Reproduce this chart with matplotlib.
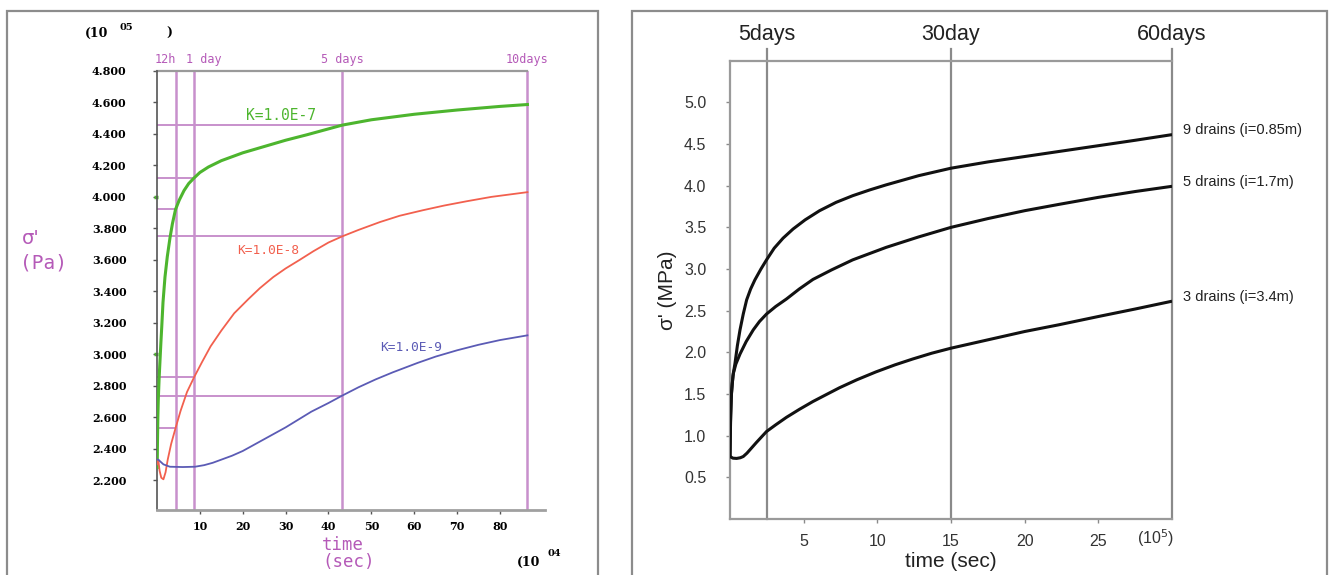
import matplotlib
matplotlib.use("Agg")
import matplotlib.pyplot as plt
from matplotlib.patches import Rectangle

# ---- left panel: effective stress vs time for three permeabilities (x 10^4 s, y 10^5 Pa)
k7_t = [0.05, 0.1, 0.2, 0.3, 0.5, 0.7, 0.9, 1.1, 1.4, 1.86, 2.4, 3.03, 3.6, 4.32, 5.2, 6.3, 7.4,
        8.64, 10.0, 12.0, 15.0, 20.0, 25.0, 30.0, 35.0, 43.2, 50.0, 60.0, 70.0, 80.0, 86.4]
k7_s = [2.28, 2.42, 2.60, 2.71, 2.85, 2.96, 3.07, 3.17, 3.33, 3.49, 3.62, 3.74, 3.83, 3.92, 3.98, 4.04, 4.085,
        4.12, 4.155, 4.19, 4.23, 4.28, 4.32, 4.36, 4.395, 4.456, 4.49, 4.525, 4.552, 4.575, 4.587]
k8_t = [0.0, 0.3, 0.6, 1.0, 1.5, 2.0, 2.5, 3.3, 4.32, 5.5, 7.0, 8.64, 10.5, 12.5, 15.0, 18.0, 21.3, 24.0,
        27.1, 30.0, 33.3, 36.5, 40.0, 43.2, 47.0, 52.0, 56.6, 62.0, 67.0, 72.2, 78.0, 86.4]
k8_s = [2.30, 2.33, 2.26, 2.215, 2.205, 2.25, 2.33, 2.43, 2.53, 2.64, 2.76, 2.853, 2.95, 3.05, 3.15, 3.26, 3.35, 3.42,
        3.49, 3.545, 3.60, 3.655, 3.71, 3.749, 3.79, 3.84, 3.88, 3.915, 3.945, 3.972, 4.0, 4.03]
k9_t = [0.0, 0.3, 1.5, 3.0, 6.0, 8.86, 11.0, 13.0, 15.0, 17.5, 20.0, 22.0, 24.0, 27.0, 30.0, 33.0, 36.0, 40.0,
        43.2, 47.0, 51.0, 55.0, 60.8, 65.0, 70.0, 75.0, 80.0, 86.4]
k9_s = [2.33, 2.33, 2.30, 2.285, 2.283, 2.285, 2.295, 2.31, 2.33, 2.355, 2.385, 2.415, 2.445, 2.49, 2.535, 2.585, 2.635, 2.69,
        2.737, 2.79, 2.84, 2.885, 2.945, 2.985, 3.025, 3.06, 3.09, 3.12]
k_labels = ["K=1.0E-7", "K=1.0E-8", "K=1.0E-9"]

# marker times (12h, 1 day, 5 days, 10 days) and the read-off levels
mark_t = [4.32, 8.64, 43.2, 86.4]
mark_names = ["12h", "1 day", "5 days", "10days"]
read_t = [43.2, 8.64, 4.32, 43.2, 8.64, 43.2, 4.32]
read_s = [4.456, 4.123, 3.923, 3.749, 2.853, 2.737, 2.53]
green_ticks = [4.0, 3.0]

left_yticks = [2.2, 2.4, 2.6, 2.8, 3.0, 3.2, 3.4, 3.6, 3.8, 4.0, 4.2, 4.4, 4.6, 4.8]
left_xticks = [10, 20, 30, 40, 50, 60, 70, 80]

# ---- right panel: sigma' (MPa) vs time (x 10^5 s) for three drain layouts
d9_t = [0.0, 0.02, 0.05, 0.1, 0.2, 0.34, 0.5, 0.68, 0.9, 1.13, 1.4, 1.69, 2.1, 2.48, 3.0, 3.6, 4.28, 5.1, 6.08,
        7.2, 8.33, 9.5, 10.6, 12.8, 15.0, 17.5, 20.0, 22.3, 25.0, 27.5, 29.9]
d9_s = [0.75, 1.0, 1.25, 1.51, 1.72, 1.87, 2.08, 2.27, 2.46, 2.63, 2.76, 2.87, 3.0, 3.11, 3.25, 3.37, 3.48, 3.59, 3.70,
        3.80, 3.88, 3.95, 4.01, 4.12, 4.21, 4.285, 4.35, 4.41, 4.48, 4.545, 4.61]
d5_t = [0.0, 0.03, 0.08, 0.15, 0.23, 0.4, 0.68, 1.1, 1.58, 2.0, 2.48, 3.1, 3.83, 4.7, 5.63, 6.9, 8.33, 10.6,
        12.8, 15.0, 17.5, 20.0, 22.3, 25.0, 27.5, 29.9]
d5_s = [0.75, 1.15, 1.45, 1.62, 1.75, 1.86, 1.98, 2.13, 2.27, 2.37, 2.46, 2.55, 2.64, 2.76, 2.875, 2.99, 3.11, 3.26,
        3.385, 3.50, 3.605, 3.70, 3.775, 3.86, 3.93, 3.99]
d3_t = [0.0, 0.2, 0.45, 0.7, 0.9, 1.15, 1.35, 1.8, 2.48, 3.1, 3.83, 4.7, 5.63, 6.5, 7.43, 8.6, 9.9, 11.2,
        12.4, 13.7, 15.0, 17.5, 20.0, 22.3, 25.0, 27.5, 29.9]
d3_s = [0.75, 0.73, 0.727, 0.735, 0.75, 0.79, 0.83, 0.92, 1.05, 1.13, 1.22, 1.315, 1.41, 1.49, 1.575, 1.67, 1.765, 1.85,
        1.92, 1.99, 2.05, 2.15, 2.25, 2.33, 2.43, 2.52, 2.61]
drain_labels = ["9 drains (i=0.85m)", "5 drains (i=1.7m)", "3 drains (i=3.4m)"]
period_t = [2.5, 15, 30]
period_names = ["5days", "30day", "60days"]
right_yticks = [0.5, 1.0, 1.5, 2.0, 2.5, 3.0, 3.5, 4.0, 4.5, 5.0]
right_xticks = [5, 10, 15, 20, 25]

W, H = 1332, 575
MAG = "#c890cc"
MAG_TXT = "#b55ab8"
GREEN = "#4db52e"
RED = "#f2604e"
BLUE = "#5b5bb5"
FRAME = "#8c8c8c"
SANS = "Liberation Sans"
MONO = "DejaVu Sans Mono"
SERIF = "DejaVu Serif"

fig = plt.figure(figsize=(W / 100, H / 100), dpi=100)


def fx(px):
    return px / W


def fy(py):
    return 1 - py / H


# panel frames
for x0, x1 in [(7, 598), (632, 1327)]:
    fig.patches.append(Rectangle((fx(x0), fy(600)), fx(x1 - x0), (600 - 11) / H,
                                 transform=fig.transFigure, fill=False,
                                 edgecolor=FRAME, linewidth=1.6))

# ================= left panel =================
ax = fig.add_axes([fx(157), fy(510), fx(545 - 157), (510 - 71) / H])
ax.set_xlim(0, 90.5)
ax.set_ylim(2.01, 4.80)
for s in ["top", "right"]:
    ax.spines[s].set_visible(False)
ax.spines["left"].set_color("#555555")
ax.spines["left"].set_linewidth(1.2)
ax.spines["bottom"].set_color("#a0a0a0")
ax.spines["bottom"].set_linewidth(2.0)
ax.plot([0, mark_t[-1]], [4.80, 4.80], color="#9a9a9a", lw=1.6, clip_on=False)

for t in mark_t:
    ax.axvline(t, color=MAG, lw=1.8, zorder=1)
label_x = [(-0.5, "left"), (6.7, "left"), (43.2, "center"), (86.4, "center")]
for (x, ha), name in zip(label_x, mark_names):
    ax.text(x, 4.875, name, color=MAG_TXT, fontsize=8.5, family=MONO, ha=ha, va="center")
for t, s in zip(read_t, read_s):
    ax.plot([0, t], [s, s], color=MAG, lw=1.4, zorder=1)

ax.plot(k7_t, k7_s, color=GREEN, lw=2.2, zorder=3)
ax.plot(k8_t, k8_s, color=RED, lw=1.3, zorder=3)
ax.plot(k9_t, k9_s, color=BLUE, lw=1.3, zorder=3)
ax.text(28.9, 4.519, k_labels[0], color=GREEN, fontsize=10.5, family=MONO, ha="center", va="center")
ax.text(25.9, 3.66, k_labels[1], color=RED, fontsize=9.3, family=MONO, ha="center", va="center")
ax.text(59.2, 3.04, k_labels[2], color=BLUE, fontsize=9.3, family=MONO, ha="center", va="center")
for s in green_ticks:
    ax.plot([-0.8, 0.3], [s, s], color=GREEN, lw=2.5, clip_on=False, solid_capstyle="butt")

ax.set_yticks(left_yticks)
ax.set_yticklabels([f"{v:.3f}" for v in left_yticks])
ax.set_xticks(left_xticks)
ax.tick_params(axis="both", direction="out", length=3, width=1, color="#555555",
               labelsize=8, pad=5)
ax.tick_params(axis="y", pad=19)
for lab in ax.get_yticklabels() + ax.get_xticklabels():
    lab.set_family(SERIF)
    lab.set_fontweight("bold")

fig.text(fx(31), fy(238), "σ'", color=MAG_TXT, fontsize=14, ha="center", va="center")
fig.text(fx(43), fy(263), "(Pa)", color=MAG_TXT, fontsize=14, family=MONO, ha="center", va="center")
fig.text(fx(322), fy(545), "time", color=MAG_TXT, fontsize=12.5, family=MONO, ha="left", va="center")
fig.text(fx(322), fy(562), "(sec)", color=MAG_TXT, fontsize=12.5, family=MONO, ha="left", va="center")
fig.text(fx(85), fy(33), "(10", fontsize=9, family=SERIF, weight="bold", ha="left", va="center")
fig.text(fx(126), fy(27), "05", fontsize=7, family=SERIF, weight="bold", ha="center", va="center")
fig.text(fx(169), fy(33), ")", fontsize=9, family=SERIF, weight="bold", ha="center", va="center")
fig.text(fx(517), fy(562), "(10", fontsize=9, family=SERIF, weight="bold", ha="left", va="center")
fig.text(fx(554), fy(554), "04", fontsize=7, family=SERIF, weight="bold", ha="center", va="center")

# ================= right panel =================
bx = fig.add_axes([fx(730), fy(519), fx(1172 - 730), (519 - 60.7) / H])
bx.set_xlim(0, 30)
bx.set_ylim(0, 5.5)
bx.spines["right"].set_visible(False)
for s in ["left", "top", "bottom"]:
    bx.spines[s].set_color("#9a9a9a")
    bx.spines[s].set_linewidth(1.6)
for t, name in zip(period_t, period_names):
    bx.plot([t, t], [0, 5.64], color="#8a8a8a", lw=1.6, clip_on=False, zorder=1)
    bx.text(t, 5.82, name, fontsize=15.5, family=SANS, color="#222222", ha="center", va="center")

for ts, ss, name in zip([d9_t, d5_t, d3_t], [d9_s, d5_s, d3_s], drain_labels):
    bx.plot(ts, ss, color="#111111", lw=2.2, zorder=3)
    bx.text(30.75, ss[-1] + 0.06, name, fontsize=10.5, family=SANS, color="#222222",
            ha="left", va="center")

bx.set_yticks(right_yticks)
bx.set_yticklabels([f"{v:.1f}" for v in right_yticks])
bx.set_xticks(right_xticks)
bx.tick_params(axis="both", direction="out", length=3, width=1, color="#8a8a8a",
               labelsize=11.5, labelcolor="#333333", pad=8)
bx.tick_params(axis="y", pad=14)
for lab in bx.get_yticklabels() + bx.get_xticklabels():
    lab.set_family(SANS)
bx.set_ylabel("σ' (MPa)", fontsize=15, family=SANS, color="#222222", labelpad=5)
bx.set_xlabel("time (sec)", fontsize=15, family=SANS, color="#222222", labelpad=2)
bx.text(28.9, -0.228, r"(10$^5$)", fontsize=11.5, family=SANS, color="#333333",
        ha="center", va="center")

fig.savefig("out.png", dpi=100)
